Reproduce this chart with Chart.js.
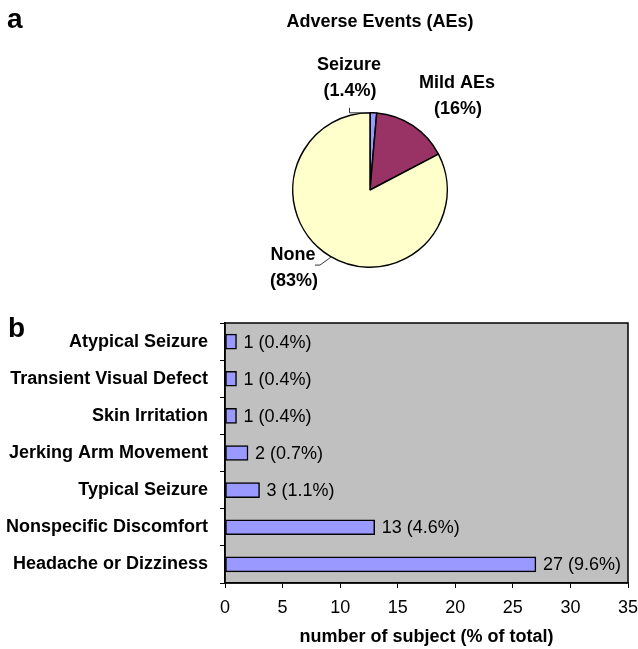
<!DOCTYPE html>
<html>
<head>
<meta charset="utf-8">
<script src="https://cdn.jsdelivr.net/npm/chart.js@4.4.1/dist/chart.umd.min.js"></script>
<style>
  html, body { margin: 0; padding: 0; background: #fff; }
  #wrap { position: relative; width: 638px; height: 649px; }
  #pieChart { position: absolute; left: 0; top: 0; }
  #barChart { position: absolute; left: 0; top: 300px; }
</style>
</head>
<body>
<div id="wrap">
  <canvas id="pieChart" width="638" height="300"></canvas>
  <canvas id="barChart" width="638" height="349"></canvas>
</div>
<script>
// panel a
const pieLabels = ['Seizure', 'Mild AEs', 'None'];
const pieValues = [1.4, 16, 83];
const pieColors = ['#9999ff', '#993366', '#ffffcc'];

// panel b
const aeCategories = [
  'Atypical Seizure',
  'Transient Visual Defect',
  'Skin Irritation',
  'Jerking Arm Movement',
  'Typical Seizure',
  'Nonspecific Discomfort',
  'Headache or Dizziness'
];
const aeCounts = [1, 1, 1, 2, 3, 13, 27];
const aePercents = [0.4, 0.4, 0.4, 0.7, 1.1, 4.6, 9.6];
const xTicks = [0, 5, 10, 15, 20, 25, 30, 35];

const FAMILY = '"Liberation Sans", Arial, Helvetica, sans-serif';
Chart.defaults.font.family = FAMILY;
Chart.defaults.color = '#000';

document.addEventListener('DOMContentLoaded', function () {
  createPie();
  createBars();
});

function createPie() {
  // label offsets from the pie centre (as placed in the original figure)
  const labelPos = [
    { dx: -21, dy: -125 },
    { dx: 87, dy: -107 },
    { dx: -77, dy: 65 }
  ];

  const pieText = {
    id: 'pieText',
    afterDraw(chart) {
      const ctx = chart.ctx;
      const arcs = chart.getDatasetMeta(0).data;
      const cx = arcs[0].x, cy = arcs[0].y;
      ctx.save();
      ctx.fillStyle = '#000';
      ctx.textBaseline = 'middle';

      // panel letter + title
      ctx.textAlign = 'left';
      ctx.font = 'bold 28px ' + FAMILY;
      ctx.fillText('a', 7, 20);
      ctx.textAlign = 'center';
      ctx.font = 'bold 18px ' + FAMILY;
      ctx.fillText('Adverse Events (AEs)', 380, 22);

      // slice labels
      pieLabels.forEach((name, i) => {
        const p = labelPos[i];
        ctx.fillText(name, cx + p.dx, cy + p.dy);
        ctx.fillText('(' + pieValues[i] + '%)', cx + p.dx + 1, cy + p.dy + 26);
      });

      // leader lines
      const mid = (a) => {
        const ang = (a.startAngle + a.endAngle) / 2;
        return { x: cx + a.outerRadius * Math.cos(ang), y: cy + a.outerRadius * Math.sin(ang) };
      };
      ctx.strokeStyle = '#333';
      ctx.lineWidth = 1;
      const s = mid(arcs[0]);
      ctx.beginPath();
      ctx.moveTo(cx - 20.5, s.y - 5);
      ctx.lineTo(cx - 20.5, s.y);
      ctx.lineTo(s.x - 4, s.y);
      ctx.stroke();
      const n = mid(arcs[2]);
      ctx.beginPath();
      ctx.moveTo(n.x + 1, n.y + 1);
      ctx.lineTo(n.x - 10, n.y + 9);
      ctx.lineTo(n.x - 15, n.y + 9);
      ctx.stroke();
      ctx.restore();
    }
  };

  new Chart(document.getElementById('pieChart'), {
    type: 'pie',
    data: {
      labels: pieLabels,
      datasets: [{
        data: pieValues,
        backgroundColor: pieColors,
        borderColor: '#000',
        borderWidth: 1.5
      }]
    },
    options: {
      responsive: false,
      animation: false,
      events: [],
      layout: { padding: { left: 292, right: 190, top: 112, bottom: 32 } },
      plugins: {
        legend: { display: false },
        tooltip: { enabled: false }
      }
    },
    plugins: [pieText]
  });
}

function createBars() {
  const plotFrame = {
    id: 'plotFrame',
    beforeDraw(chart) {
      const a = chart.chartArea;
      chart.ctx.save();
      chart.ctx.fillStyle = '#c0c0c0';
      chart.ctx.fillRect(a.left, a.top, a.right - a.left, a.bottom - a.top);
      chart.ctx.restore();
    },
    afterDraw(chart) {
      const a = chart.chartArea;
      const ctx = chart.ctx;
      ctx.save();
      ctx.strokeStyle = '#000';
      ctx.lineWidth = 1.5;
      ctx.strokeRect(a.left, a.top, a.right - a.left, a.bottom - a.top);
      ctx.fillStyle = '#000';
      ctx.font = 'bold 28px ' + FAMILY;
      ctx.textBaseline = 'middle';
      ctx.fillText('b', 8, 29);
      ctx.restore();
    }
  };

  const valueLabels = {
    id: 'valueLabels',
    afterDatasetsDraw(chart) {
      const ctx = chart.ctx;
      ctx.save();
      ctx.fillStyle = '#000';
      ctx.font = '18px ' + FAMILY;
      ctx.textBaseline = 'middle';
      chart.getDatasetMeta(0).data.forEach((bar, i) => {
        ctx.fillText(aeCounts[i] + ' (' + aePercents[i] + '%)', bar.x + 7, bar.y + 1);
      });
      ctx.restore();
    }
  };

  new Chart(document.getElementById('barChart'), {
    type: 'bar',
    data: {
      labels: aeCategories,
      datasets: [{
        data: aeCounts,
        backgroundColor: '#9999ff',
        borderColor: '#000',
        borderWidth: 1.5,
        borderSkipped: false,
        barThickness: 15
      }]
    },
    options: {
      indexAxis: 'y',
      responsive: false,
      animation: false,
      events: [],
      layout: { padding: { top: 23, right: 10, bottom: 0, left: 0 } },
      plugins: {
        legend: { display: false },
        tooltip: { enabled: false }
      },
      scales: {
        y: {
          grid: { offset: true, drawOnChartArea: false, tickLength: 5, color: '#000' },
          border: { color: '#000', width: 1.5 },
          ticks: { color: '#000', padding: 12, font: { size: 18, weight: 'bold' } },
          afterFit(s) { s.width = 225; s.paddingTop = 0; s.paddingBottom = 0; }
        },
        x: {
          min: xTicks[0],
          max: xTicks[xTicks.length - 1],
          grid: { drawOnChartArea: false, tickLength: 5, color: '#000' },
          border: { color: '#000', width: 1.5 },
          ticks: { stepSize: xTicks[1] - xTicks[0], color: '#000', padding: 9, font: { size: 18 } },
          title: {
            display: true,
            text: 'number of subject (% of total)',
            color: '#000',
            font: { size: 18, weight: 'bold' },
            padding: { top: 0, bottom: 1 }
          },
          afterFit(s) { s.height = 66; s.paddingLeft = 0; s.paddingRight = 0; }
        }
      }
    },
    plugins: [plotFrame, valueLabels]
  });
}
</script>
</body>
</html>
